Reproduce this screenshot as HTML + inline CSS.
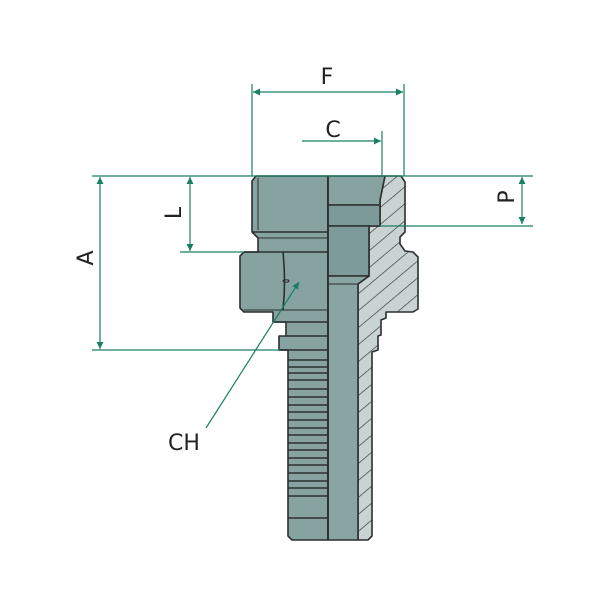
<!DOCTYPE html>
<html><head><meta charset="utf-8"><style>
html,body{margin:0;padding:0;background:#fff;}
svg{display:block;}
text{font-family:"DejaVu Sans","Liberation Sans",sans-serif;fill:#222;}
</style></head><body>
<svg width="600" height="600" viewBox="0 0 600 600" xmlns="http://www.w3.org/2000/svg">
<defs>
<pattern id="h" patternUnits="userSpaceOnUse" width="13" height="13" patternTransform="rotate(50)">
<rect width="13" height="13" fill="#c9d3d2"/>
<line x1="0" y1="0" x2="0" y2="13" stroke="#333" stroke-width="1.3"/>
</pattern>
<marker id="a" viewBox="0 0 10 10" refX="10" refY="5" markerWidth="9" markerHeight="7" orient="auto-start-reverse" markerUnits="userSpaceOnUse">
<path d="M0,0 L10,5 L0,10 z" fill="#1a7f64"/>
</marker>
</defs>
<g stroke="#2b2f2f" stroke-width="1.6" stroke-linejoin="round">
<path fill="url(#h)" d="M385,176 L401,176 L405,182 L405,232 L400,237 L400,244 L405,251 L413,252 L418,257 L418,309 L413,312 L386,312 L386,318 L381,320 L381,335 L378,336 L378,350 L372,352 L372,536 L368,540 L358,540 L358,284 L369,276 L369,226 L380,226 L380,200 Z"/>
<path fill="#86a3a2" d="M256,176 L328,176 L328,540 L292,540 L288,536 L288,350 L279,350 L279,336 L286,336 L286,322 L273,322 L273,312 L244,312 L240,308 L240,256 L244,252 L258,252 L258,238 L252,232 L252,181 Z"/>
<path fill="#86a3a2" d="M328,176 L385,176 L380,200 L380,205 L328,205 Z"/>
<rect x="328" y="205" width="52" height="21" fill="#7b9a99"/>
<rect x="328" y="226" width="41" height="50" fill="#7d9b9a"/>
<path fill="#88a5a4" d="M328,276 L369,276 L358,284 L358,540 L328,540 Z"/>
<line x1="258" y1="178" x2="258" y2="230" stroke-width="1"/>
<line x1="252" y1="232" x2="328" y2="232"/>
<line x1="258" y1="238" x2="328" y2="238" stroke-width="1"/>
<line x1="244" y1="252" x2="328" y2="252"/>
<path fill="none" d="M283,252 Q286,281 283,310"/>
<line x1="244" y1="310" x2="328" y2="310" stroke-width="1"/>
<line x1="273" y1="322" x2="328" y2="322"/>
<line x1="286" y1="336" x2="328" y2="336"/>
<line x1="279" y1="350" x2="328" y2="350"/>
<line x1="328" y1="176" x2="328" y2="540"/>
<line x1="328" y1="284" x2="358" y2="284" stroke-width="1"/>
<ellipse cx="286" cy="281" rx="3" ry="1.2" fill="none" stroke-width="1"/>
<g stroke-width="1.4">
<line x1="288" y1="360" x2="328" y2="360"/><line x1="288" y1="367" x2="328" y2="367"/>
<line x1="288" y1="373" x2="328" y2="373"/><line x1="288" y1="380" x2="328" y2="380"/>
<line x1="288" y1="389" x2="328" y2="389"/><line x1="288" y1="397" x2="328" y2="397"/>
<line x1="288" y1="405" x2="328" y2="405"/><line x1="288" y1="412" x2="328" y2="412"/>
<line x1="288" y1="420" x2="328" y2="420"/><line x1="288" y1="428" x2="328" y2="428"/>
<line x1="288" y1="435" x2="328" y2="435"/><line x1="288" y1="443" x2="328" y2="443"/>
<line x1="288" y1="450" x2="328" y2="450"/><line x1="288" y1="458" x2="328" y2="458"/>
<line x1="288" y1="465" x2="328" y2="465"/><line x1="288" y1="473" x2="328" y2="473"/>
<line x1="288" y1="481" x2="328" y2="481"/><line x1="288" y1="488" x2="328" y2="488"/>
<line x1="288" y1="496" x2="328" y2="496"/><line x1="288" y1="518" x2="328" y2="518"/>
</g>
</g>
<g stroke="#1a7f64" stroke-width="1.2" fill="none">
<line x1="252" y1="84" x2="252" y2="176"/>
<line x1="404" y1="84" x2="404" y2="176"/>
<line x1="382" y1="131" x2="382" y2="176"/>
<line x1="253" y1="92" x2="403" y2="92" marker-start="url(#a)" marker-end="url(#a)"/>
<line x1="302" y1="141" x2="381" y2="141" marker-end="url(#a)"/>
<line x1="92" y1="176" x2="533" y2="176"/>
<line x1="100" y1="177" x2="100" y2="349" marker-start="url(#a)" marker-end="url(#a)"/>
<line x1="92" y1="350" x2="280" y2="350"/>
<line x1="190" y1="177" x2="190" y2="251" marker-start="url(#a)" marker-end="url(#a)"/>
<line x1="180" y1="252" x2="244" y2="252"/>
<line x1="522" y1="177" x2="522" y2="224" marker-start="url(#a)" marker-end="url(#a)"/>
<line x1="380" y1="226" x2="533" y2="226"/>
<line x1="206" y1="428" x2="299" y2="282" marker-end="url(#a)"/>
</g>
<g font-size="22">
<text x="327" y="84" text-anchor="middle">F</text>
<text x="333" y="137" text-anchor="middle">C</text>
<text x="168" y="450">CH</text>
<text transform="translate(93,258) rotate(-90)" text-anchor="middle">A</text>
<text transform="translate(181,213) rotate(-90)" text-anchor="middle">L</text>
<text transform="translate(514,197) rotate(-90)" text-anchor="middle">P</text>
</g>
</svg>
</body></html>
